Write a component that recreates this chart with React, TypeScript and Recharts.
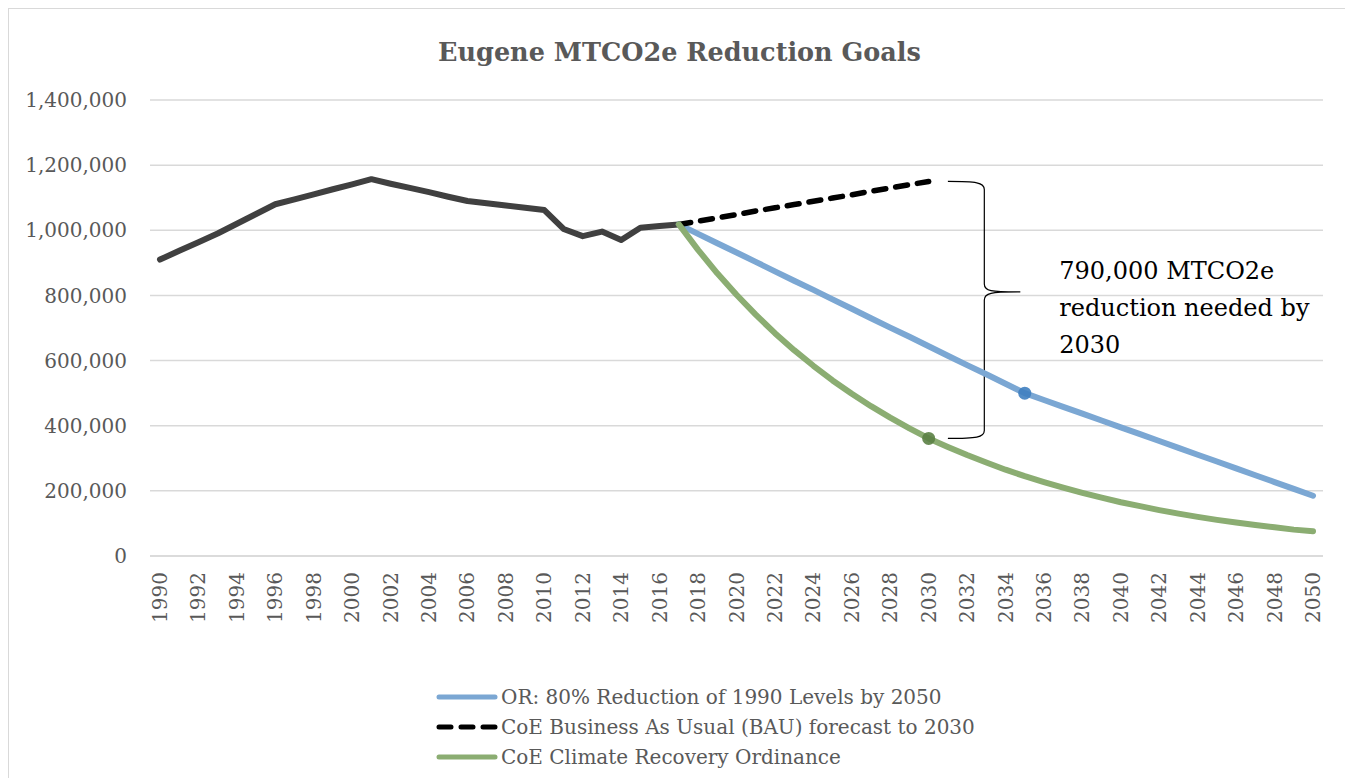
import { LineChart, Line, XAxis, YAxis, CartesianGrid, Legend, ReferenceArea } from "recharts"

const years = [
  "1990", "1991", "1992", "1993", "1994", "1995", "1996", "1997", "1998", "1999",
  "2000", "2001", "2002", "2003", "2004", "2005", "2006", "2007", "2008", "2009",
  "2010", "2011", "2012", "2013", "2014", "2015", "2016", "2017", "2018", "2019",
  "2020", "2021", "2022", "2023", "2024", "2025", "2026", "2027", "2028", "2029",
  "2030", "2031", "2032", "2033", "2034", "2035", "2036", "2037", "2038", "2039",
  "2040", "2041", "2042", "2043", "2044", "2045", "2046", "2047", "2048", "2049",
  "2050",
]

// 1990 - 2017
const historical = [
  910000, 937000, 963000, 990000, 1020000, 1050000, 1080000, 1095000, 1110000, 1126000,
  1141000, 1157000, 1143000, 1130000, 1117000, 1103000, 1090000, 1083000, 1076000, 1069000,
  1062000, 1004000, 982000, 996000, 970000, 1008000, 1013000, 1018000,
]

// 2017 - 2030
const bauForecast = [
  1018000, 1028000, 1038000, 1048000, 1059000, 1069000, 1079000, 1089000, 1099000, 1109000,
  1120000, 1130000, 1140000, 1150000,
]

// 2017 - 2050
const orTarget = [
  1018000, 989000, 960000, 932000, 903000, 874000, 845000, 817000, 788000, 759000,
  730000, 701000, 673000, 644000, 615000, 586000, 558000, 529000, 500000, 479000,
  458000, 437000, 416000, 395000, 374000, 353000, 332000, 311000, 290000, 269000,
  248000, 227000, 206000, 185000,
]

// 2017 - 2050
const croTarget = [
  1018000, 940000, 868000, 802000, 741000, 684000, 632000, 584000, 539000, 498000,
  460000, 425000, 392000, 361000, 335000, 310000, 287000, 265000, 245000, 227000,
  210000, 194000, 179000, 165000, 153000, 141000, 130000, 120000, 111000, 103000,
  95000, 88000, 81000, 76000,
]

const yTicks = [0, 200000, 400000, 600000, 800000, 1000000, 1200000, 1400000]

const legendItems = [
  { name: "OR: 80% Reduction of 1990 Levels by 2050", color: "#7BA7D3", dashed: false },
  { name: "CoE Business As Usual (BAU) forecast to 2030", color: "#000000", dashed: true },
  { name: "CoE Climate Recovery Ordinance", color: "#8BAD72", dashed: false },
]

const annotationLines = ["790,000 MTCO2e", "reduction needed by", "2030"]

const FORECAST_START = years.indexOf("2017")

const chartData = years.map((year, i) => {
  const f = i - FORECAST_START
  return {
    year,
    historical: i < historical.length ? historical[i] : null,
    bau: f >= 0 && f < bauForecast.length ? bauForecast[f] : null,
    or: f >= 0 && f < orTarget.length ? orTarget[f] : null,
    cro: f >= 0 && f < croTarget.length ? croTarget[f] : null,
  }
})

const markerDot = (year: string, color: string) => (props: any) => {
  if (props.payload?.year !== year || props.cy == null) return <g key={`d-${props.index}`} />
  return <circle key={`d-${props.index}`} cx={props.cx} cy={props.cy} r={6.5} fill={color} fillOpacity={0.9} />
}

const YearTick = ({ x, y, payload }: any) => (
  <text
    x={x}
    y={y}
    transform={`rotate(-90, ${x}, ${y})`}
    textAnchor="end"
    dominantBaseline="central"
    fill="#595959"
    fontSize={20}
  >
    {payload.value}
  </text>
)

// curly brace + note, drawn in the rect of the reference area
const BraceNote = ({ x, y, width, height }: any) => {
  const left = x
  const right = x + width - 2
  const top = y
  const bottom = y + height
  const mid = top + height * 0.43
  const tip = right + 36
  const path = [
    `M ${left} ${top}`,
    `C ${right - 8} ${top}, ${right} ${top + 1}, ${right} ${top + 8}`,
    `L ${right} ${mid - 8}`,
    `C ${right} ${mid - 1}, ${right + 6} ${mid}, ${tip} ${mid}`,
    `C ${right + 6} ${mid}, ${right} ${mid + 1}, ${right} ${mid + 8}`,
    `L ${right} ${bottom - 8}`,
    `C ${right} ${bottom - 1}, ${right - 8} ${bottom}, ${left} ${bottom}`,
  ].join(" ")
  return (
    <g>
      <path d={path} fill="none" stroke="#000" strokeWidth={1.2} />
      {annotationLines.map((line, i) => (
        <text key={line} x={tip + 39} y={mid - 13 + i * 37} fill="#000" fontSize={24}>
          {line}
        </text>
      ))}
    </g>
  )
}

const LegendContent = () => (
  <div>
    {legendItems.map((item) => (
      <div key={item.name} style={{ display: "flex", alignItems: "center", height: 30 }}>
        <svg width={62} height={10}>
          <line
            x1={3}
            y1={5}
            x2={59}
            y2={5}
            stroke={item.color}
            strokeWidth={5}
            strokeLinecap="round"
            strokeDasharray={item.dashed ? "12 10" : undefined}
          />
        </svg>
        <span style={{ marginLeft: 3, fontSize: 20, color: "#595959", whiteSpace: "nowrap" }}>{item.name}</span>
      </div>
    ))}
  </div>
)

export default function App() {
  return (
    <div
      style={{
        position: "relative",
        width: 1341,
        height: 790,
        border: "1px solid #d9d9d9",
        fontFamily: "'DejaVu Serif', serif",
        background: "#fff",
      }}
    >
      {/* Title */}
      <div
        style={{
          position: "absolute",
          top: 30,
          left: 0,
          width: "100%",
          textAlign: "center",
          fontSize: 25.5,
          lineHeight: "26px",
          fontWeight: "bold",
          color: "#595959",
        }}
      >
        Eugene MTCO2e Reduction Goals
      </div>

      <LineChart width={1341} height={790} data={chartData} margin={{ top: 91, right: 27, left: 0, bottom: 163 }}>
        <CartesianGrid vertical={false} stroke="#d9d9d9" strokeWidth={1.5} />
        <XAxis
          dataKey="year"
          interval={1}
          height={80}
          padding={{ left: 10, right: 10 }}
          tickLine={false}
          tickSize={0}
          tickMargin={16}
          axisLine={{ stroke: "#d9d9d9", strokeWidth: 1.5 }}
          tick={<YearTick />}
        />
        <YAxis
          width={141}
          domain={[0, 1400000]}
          ticks={yTicks}
          axisLine={false}
          tickLine={false}
          tickSize={0}
          tickMargin={23}
          tick={{ fill: "#595959", fontSize: 20 }}
          tickFormatter={(v: number) => v.toLocaleString("en-US")}
        />
        <ReferenceArea
          x1="2031"
          x2="2033"
          y1={bauForecast[bauForecast.length - 1]}
          y2={croTarget[years.indexOf("2030") - FORECAST_START]}
          shape={<BraceNote />}
        />
        <Line
          dataKey="historical"
          stroke="#404040"
          strokeWidth={6}
          dot={false}
          legendType="none"
          strokeLinejoin="round"
          strokeLinecap="round"
          isAnimationActive={false}
        />
        <Line
          dataKey="or"
          stroke="#7BA7D3"
          strokeWidth={6}
          dot={markerDot("2035", "#3F7FC0")}
          activeDot={false}
          strokeLinejoin="round"
          strokeLinecap="round"
          isAnimationActive={false}
        />
        <Line
          dataKey="bau"
          stroke="#000"
          strokeWidth={5.5}
          strokeDasharray="12 10"
          strokeLinecap="round"
          dot={false}
          isAnimationActive={false}
        />
        <Line
          dataKey="cro"
          stroke="#8BAD72"
          strokeWidth={6}
          dot={markerDot("2030", "#5A7F44")}
          activeDot={false}
          strokeLinejoin="round"
          strokeLinecap="round"
          isAnimationActive={false}
        />
        <Legend
          layout="vertical"
          align="center"
          verticalAlign="middle"
          wrapperStyle={{ left: 427, top: 673 }}
          content={<LegendContent />}
        />
      </LineChart>
    </div>
  )
}
